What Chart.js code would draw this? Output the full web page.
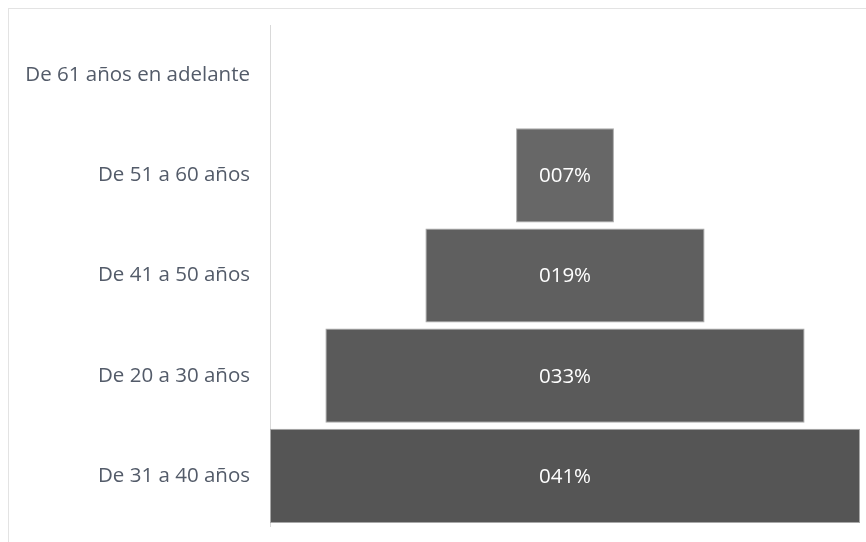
<!DOCTYPE html>
<html lang="es">
<head>
<meta charset="UTF-8">
<title>Edades</title>
<style>
  body { margin: 0; background: #fff; overflow: hidden; }
  .marco { position: absolute; left: 8px; top: 8px; width: 900px; height: 600px; border: 1px solid #e3e3e3; }
  .grafico { position: absolute; left: 0; top: 0; width: 866px; height: 542px; }
</style>
</head>
<body>
<div class="marco"></div>
<div class="grafico"><canvas id="miGrafico"></canvas></div>
<script src="https://cdn.jsdelivr.net/npm/chart.js"></script>
<script>
  // rangos de edad (de arriba hacia abajo) y porcentajes
  const categorias = ['De 61 años en adelante', 'De 51 a 60 años', 'De 41 a 50 años', 'De 20 a 30 años', 'De 31 a 40 años'];
  const porcentajes = [0, 6.8, 19.4, 33.3, 41];
  const etiquetas = ['000%', '007%', '019%', '033%', '041%'];
  const colores = ['#6a6a6a', '#676767', '#5f5f5f', '#5a5a5a', '#555555'];

  const maximo = Math.max(...porcentajes);
  // barras flotantes centradas para el efecto embudo
  const rangos = porcentajes.map(v => [(maximo - v) / 2, (maximo + v) / 2]);

  // texto blanco dentro de cada barra
  const textoBarras = {
    id: 'textoBarras',
    afterDatasetsDraw(chart) {
      const c = chart.ctx;
      const meta = chart.getDatasetMeta(0);
      c.save();
      c.fillStyle = '#ffffff';
      c.font = '20.5px "Open Sans", sans-serif';
      c.textAlign = 'center';
      c.textBaseline = 'middle';
      meta.data.forEach((barra, i) => {
        if (porcentajes[i] === 0) return;
        const p = barra.getProps(['x', 'base', 'y'], true);
        c.fillText(etiquetas[i], (p.x + p.base) / 2, p.y + 1);
      });
      c.restore();
    }
  };

  new Chart(document.getElementById('miGrafico'), {
    type: 'bar',
    data: {
      labels: categorias,
      datasets: [{
        data: rangos,
        backgroundColor: colores,
        borderColor: '#a8a8a8',
        borderWidth: 1,
        borderSkipped: false,
        barPercentage: 0.94,
        categoryPercentage: 1
      }]
    },
    options: {
      indexAxis: 'y',
      responsive: true,
      maintainAspectRatio: false,
      animation: false,
      layout: { padding: { top: 25, bottom: 16, right: 6, left: 0 } },
      plugins: { legend: { display: false }, tooltip: { enabled: false } },
      scales: {
        x: { display: false, min: 0, max: maximo },
        y: {
          afterFit(scale) {
            scale.width = 270;
            scale.paddingTop = 0;
            scale.paddingBottom = 0;
          },
          grid: { display: false, drawTicks: false },
          border: { display: true, color: '#d9d9d9', width: 1 },
          ticks: { color: '#535b69', padding: 20, font: { family: '"Open Sans", sans-serif', size: 20.5 } }
        }
      }
    },
    plugins: [textoBarras]
  });
</script>
</body>
</html>
